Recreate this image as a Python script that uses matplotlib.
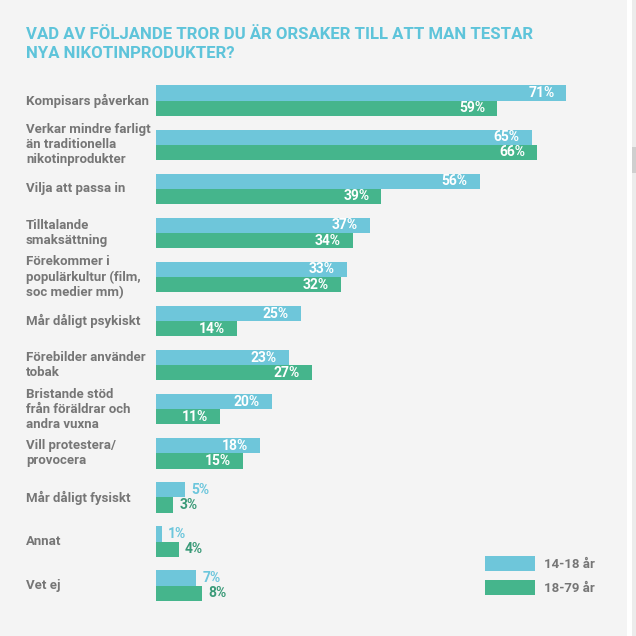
import numpy as np
import matplotlib.pyplot as plt
from matplotlib.patches import Rectangle

# Data
categories = [
    'Kompisars påverkan',
    'Verkar mindre farligt\nän traditionella\nnikotinprodukter',
    'Vilja att passa in',
    'Tilltalande\nsmaksättning',
    'Förekommer i\npopulärkultur (film,\nsoc medier mm)',
    'Mår dåligt psykiskt',
    'Förebilder använder\ntobak',
    'Bristande stöd\nfrån föräldrar och\nandra vuxna',
    'Vill protestera/\nprovocera',
    'Mår dåligt fysiskt',
    'Annat',
    'Vet ej',
]
ung = [71, 65, 56, 37, 33, 25, 23, 20, 18, 5, 1, 7]
vuxna = [59, 66, 39, 34, 32, 14, 27, 11, 15, 3, 4, 8]
serie_namn = ['14-18 år', '18-79 år']

title_lines = ['VAD AV FÖLJANDE TROR DU ÄR ORSAKER TILL ATT MAN TESTAR',
               'NYA NIKOTINPRODUKTER?']

blue = '#6ec6da'
green = '#45b58c'
blue_txt = '#6cc6dc'
green_txt = '#3a9a78'
grey = '#767676'
bg = '#f4f4f4'
font = 'Roboto'

W, H = 636, 636
fig = plt.figure(figsize=(W / 100, H / 100), dpi=100, facecolor=bg)

# scrollbar strip on the right
fig.patches.append(Rectangle((627 / W, 0), 5 / W, 1, transform=fig.transFigure,
                             facecolor='white', edgecolor='none'))
fig.patches.append(Rectangle((632 / W, 0), 4 / W, 1, transform=fig.transFigure,
                             facecolor='#ececec', edgecolor='none'))
fig.patches.append(Rectangle((632 / W, 1 - 173 / H), 4 / W, 26 / H, transform=fig.transFigure,
                             facecolor='#cfcfcf', edgecolor='none'))

# axes: 1 % = 5.78 px, rows 44.1 px apart
px_per = 5.78
row = 44.08
top_px = 100.7 - row / 2
bot_px = 585.6 + row / 2
ax = fig.add_axes([156 / W, 1 - bot_px / H, 80 * px_per / W, (bot_px - top_px) / H])
ax.set_facecolor('none')
ax.set_xlim(0, 80)
ax.set_ylim(len(categories) - 0.5, -0.5)
ax.axis('off')

y = np.arange(len(categories))
h = 0.345
b1 = ax.barh(y - h / 2, ung, height=h, color=blue, label=serie_namn[0])
b2 = ax.barh(y + h / 2, vuxna, height=h, color=green, label=serie_namn[1])

for bars, vals, tc in [(b1, ung, blue_txt), (b2, vuxna, green_txt)]:
    for rect, v in zip(bars, vals):
        yc = rect.get_y() + rect.get_height() / 2
        if v >= 10:
            ax.annotate(f'{v}%', (v, yc), xytext=(-8.6, 0), textcoords='offset points',
                        ha='right', va='center', color='white', fontsize=10,
                        fontweight='bold', family=font)
        else:
            ax.annotate(f'{v}%', (v, yc), xytext=(4.3, 0), textcoords='offset points',
                        ha='left', va='center', color=tc, fontsize=10,
                        fontweight='bold', family=font)

# category labels
for i, lab in enumerate(categories):
    ax.text(-130 / px_per, i, lab, ha='left', va='center', color=grey, fontsize=9.5,
            fontweight='bold', family=font, linespacing=1.2)

for line, base in zip(title_lines, [39.3, 57.7]):
    fig.text(26 / W, 1 - base / H, line, ha='left', va='baseline', color='#5ec4da',
             fontsize=12.1, fontweight='bold', family=font)

fs = 9.5 * 100 / 72
leg = fig.legend(handles=[b1, b2], loc='upper left', bbox_to_anchor=(485 / W, 1 - 555.7 / H),
                 frameon=False, handlelength=50 / fs, handleheight=18.3 / fs,
                 handletextpad=8.6 / fs, labelspacing=9.5 / fs, borderaxespad=0, borderpad=0,
                 prop={'family': font, 'weight': 'bold', 'size': 9.5})
for t in leg.get_texts():
    t.set_color(grey)

fig.savefig('out.png', dpi=100, facecolor=bg)
